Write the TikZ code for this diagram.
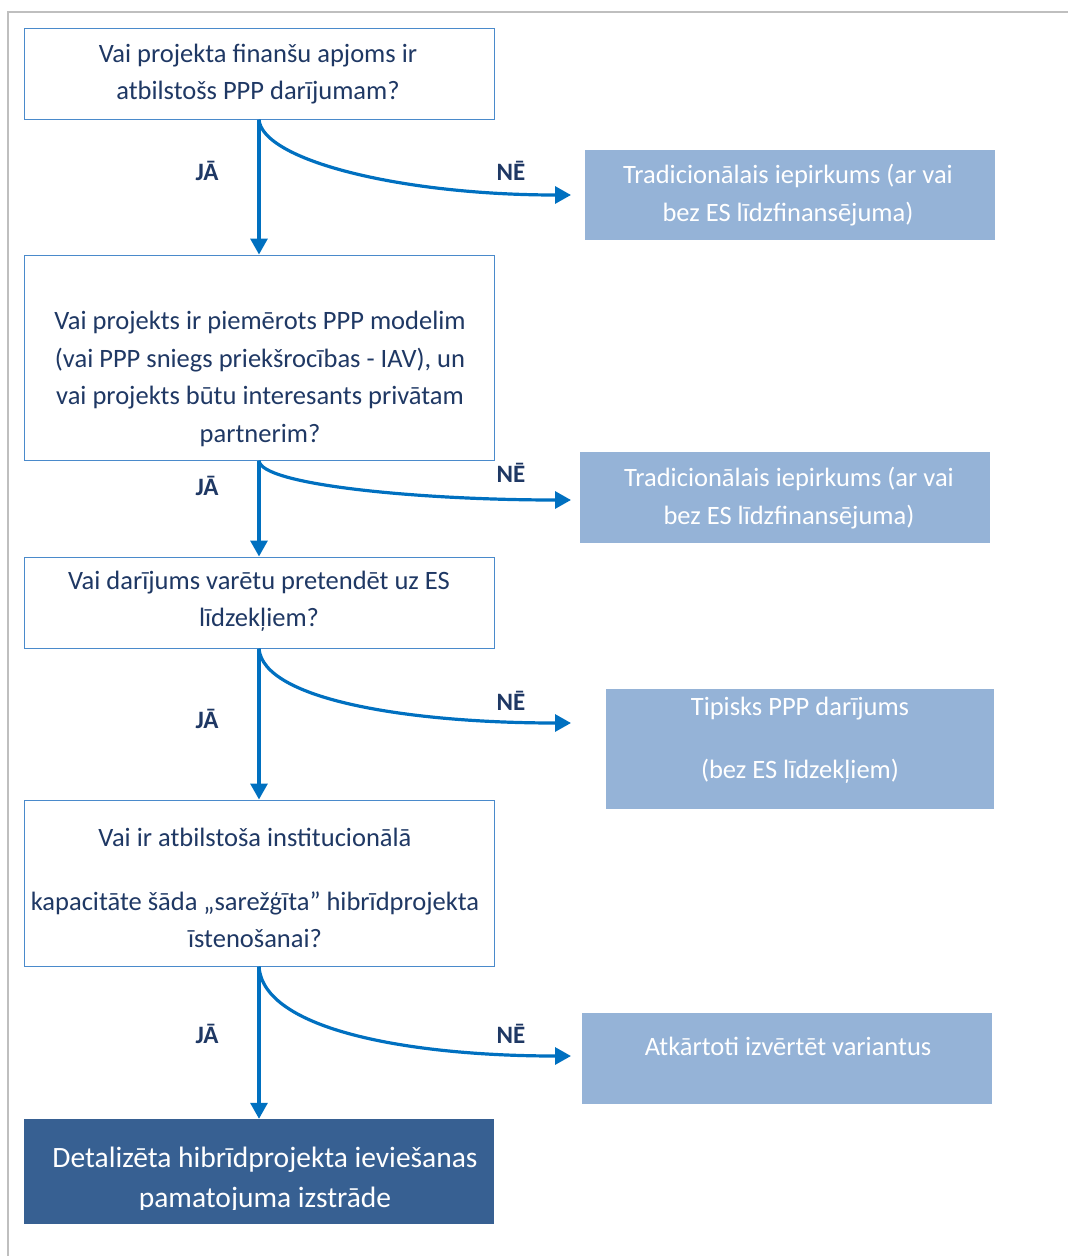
\documentclass[tikz,border=0pt]{standalone}
\usepackage{fontspec}
\setmainfont{Carlito}
\usetikzlibrary{arrows.meta}
\definecolor{framegray}{HTML}{BFBFBF}
\definecolor{boxline}{HTML}{4A8ACB}
\definecolor{arrowblue}{HTML}{0070C0}
\definecolor{navy}{HTML}{1F3864}
\definecolor{lightfill}{HTML}{95B3D7}
\definecolor{darkfill}{HTML}{376092}
\tikzset{
  qbox/.style={draw=boxline, line width=1pt, fill=white, inner sep=0pt},
  rbox/.style={fill=lightfill, draw=none, inner sep=0pt},
  fbox/.style={fill=darkfill, draw=none, inner sep=0pt},
  qtext/.style={text=navy, align=center, font=\fontsize{26.5}{37.5}\selectfont, inner sep=0pt},
  wtext/.style={text=white, align=center, font=\fontsize{26.5}{37.5}\selectfont, inner sep=0pt},
  btext/.style={text=white, align=center, font=\fontsize{29.5}{40}\selectfont, inner sep=0pt},
  yn/.style={text=navy, font=\fontsize{25}{28}\selectfont\bfseries, inner sep=0pt},
  flow/.style={draw=arrowblue, line width=3.2pt, -{Triangle[length=16pt,width=17pt]}},
}
\begin{document}
\begin{tikzpicture}[x=1pt,y=-1pt]
\useasboundingbox (0,0) rectangle (1068,1256);
% outer frame
\draw[framegray, line width=2pt] (8,1256) -- (8,12) -- (1068,12);

% question boxes
\node[qbox, minimum width=470pt, minimum height=91pt] (b1) at (259,73.5) {};
\node[qtext] (b1t) at (258,74) {Vai projekta finanšu apjoms ir\\atbilstošs PPP darījumam?};

\node[qbox, minimum width=470pt, minimum height=205pt] (b2) at (259,357.5) {};
\node[qtext] (b2t) at (260,379) {Vai projekts ir piemērots PPP modelim\\(vai PPP sniegs priekšrocības - IAV), un\\vai projekts būtu interesants privātam\\partnerim?};

\node[qbox, minimum width=470pt, minimum height=91pt] (b3) at (259,602.5) {};
\node[qtext] (b3t) at (259,601) {Vai darījums varētu pretendēt uz ES\\līdzekļiem?};

\node[qbox, minimum width=470pt, minimum height=166pt] (b4) at (259,883) {};
\node[qtext] (b4t) at (255,888) {Vai ir atbilstoša institucionālā\\[26pt]kapacitāte šāda „sarežģīta” hibrīdprojekta\\īstenošanai?};

\node[fbox, minimum width=470pt, minimum height=105pt] (b5) at (259,1171.5) {};
\begin{scope}
\clip (24,1119) rectangle (494,1209);
\node[btext] (b5t) at (265,1180) {Detalizēta hibrīdprojekta ieviešanas\\pamatojuma izstrāde};
\end{scope}

% result boxes
\node[rbox, minimum width=410pt, minimum height=90pt] (r1) at (790,195) {};
\node[wtext] (r1t) at (788,195) {Tradicionālais iepirkums (ar vai\\bez ES līdzfinansējuma)};

\node[rbox, minimum width=410pt, minimum height=91pt] (r2) at (785,497.5) {};
\node[wtext] (r2t) at (789,498) {Tradicionālais iepirkums (ar vai\\bez ES līdzfinansējuma)};

\node[rbox, minimum width=388pt, minimum height=120pt] (r3) at (800,749) {};
\node[wtext] (r3t) at (800,740) {Tipisks PPP darījums\\[26pt](bez ES līdzekļiem)};

\node[rbox, minimum width=410pt, minimum height=91pt] (r4) at (787,1058.5) {};
\node[wtext] (r4t) at (788,1046) {Atkārtoti izvērtēt variantus};

% arrow ends
\coordinate (n1) at (571,195);
\coordinate (n2) at (571,500);
\coordinate (n3) at (571,723);
\coordinate (n4) at (571,1056);

% yes arrows
\draw[flow] (b1.south) -- (b2.north);
\draw[flow] (b2.south) -- (b3.north);
\draw[flow] (b3.south) -- (b4.north);
\draw[flow] (b4.south) -- (b5.north);

% no arrows
\draw[flow] (b1.south) .. controls (262,160) and (400,195) .. (n1);
\draw[flow] (b2.south) .. controls (260,485) and (420,500) .. (n2);
\draw[flow] (b3.south) .. controls (263,700) and (410,723) .. (n3);
\draw[flow] (b4.south) .. controls (263,1030) and (410,1056) .. (n4);

% labels
\node[yn] (y1) at (207,171) {JĀ};
\node[yn] (y2) at (207,486) {JĀ};
\node[yn] (y3) at (207,719) {JĀ};
\node[yn] (y4) at (207,1034) {JĀ};
\node[yn] (x1) at (511,171) {NĒ};
\node[yn] (x2) at (511,473) {NĒ};
\node[yn] (x3) at (511,701) {NĒ};
\node[yn] (x4) at (511,1034) {NĒ};
\end{tikzpicture}
\end{document}
